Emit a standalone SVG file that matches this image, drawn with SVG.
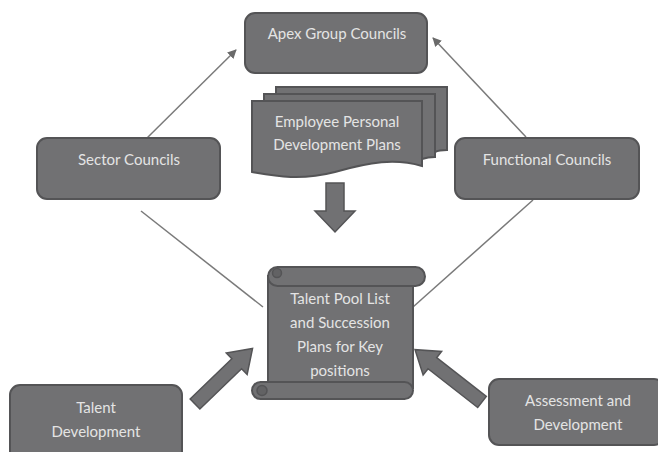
<svg xmlns="http://www.w3.org/2000/svg" width="658" height="452" viewBox="0 0 658 452">
<style>
.box{fill:#717173;stroke:#545456;stroke-width:2}
.t{font-family:Lato,"Liberation Sans",sans-serif;font-size:15px;fill:#e4e4e4;text-anchor:middle}
.ln{stroke:#7a7a7a;stroke-width:1.5;fill:none}
.big{fill:#717173;stroke:#545456;stroke-width:1.5}
.curl{fill:#626264;stroke:#545456;stroke-width:1.5}
</style>
<defs>
<marker id="ah" viewBox="0 0 10 10" refX="9" refY="5" markerWidth="9" markerHeight="9" orient="auto" markerUnits="userSpaceOnUse">
<path d="M0,0 L10,5 L0,10 z" fill="#6a6a6a"/>
</marker>
</defs>
<rect width="658" height="452" fill="#ffffff"/>
<g id="connectors">
<line class="ln" x1="147" y1="138" x2="236" y2="50" marker-end="url(#ah)"/>
<line class="ln" x1="526" y1="137" x2="433" y2="38" marker-end="url(#ah)"/>
<line class="ln" x1="141" y1="211" x2="263" y2="307"/>
<line class="ln" x1="533" y1="200" x2="413" y2="307"/>
<polygon class="big" points="326,183 344,183 344,211 355,211 335,232 315,211 326,211"/>
<polygon class="big" transform="translate(195,404) rotate(-44)" points="0,-7 58,-7 58,-15 80,0 58,15 58,7 0,7"/>
<polygon class="big" transform="translate(482,402) rotate(-142)" points="0,-7 63,-7 63,-15 85,0 63,15 63,7 0,7"/>
</g>
<g id="apex">
<rect class="box" x="245" y="13" width="182" height="60" rx="10"/>
<text class="t" x="337" y="39">Apex Group Councils</text>
</g>
<g id="sector">
<rect class="box" x="37" y="138" width="183" height="61" rx="10"/>
<text class="t" x="129" y="165">Sector Councils</text>
</g>
<g id="functional">
<rect class="box" x="455" y="138" width="184" height="61" rx="10"/>
<text class="t" x="547" y="165">Functional Councils</text>
</g>
<g id="employee">
<path class="box" d="M276,87 L447,87 L447,150 C440,150 437,151 435,152 L435,94 L276,94 z"/>
<path class="box" d="M264,94 L435,94 L435,157 C428,157 425,158 422,159 L422,101 L264,101 z"/>
<path class="box" d="M252,101 L422,101 L422,166 C395,158 370,162 335,172 C300,181 275,176 252,172 z"/>
<text class="t" x="337" y="127">Employee Personal</text>
<text class="t" x="337" y="150">Development Plans</text>
</g>
<g id="talentpool">
<rect class="box" x="268" y="276" width="145" height="112"/>
<rect class="box" x="268" y="267" width="157" height="19" rx="9.5"/>
<rect class="box" x="252" y="382" width="161" height="17" rx="8.5"/>
<circle class="curl" cx="277" cy="273" r="4.5"/>
<circle class="curl" cx="262" cy="390.5" r="5"/>
<text class="t" x="340" y="304">Talent Pool List</text>
<text class="t" x="340" y="328">and Succession</text>
<text class="t" x="340" y="352">Plans for Key</text>
<text class="t" x="340" y="376">positions</text>
</g>
<g id="talentdev">
<rect class="box" x="10" y="385" width="172" height="80" rx="10"/>
<text class="t" x="96" y="413">Talent</text>
<text class="t" x="96" y="437">Development</text>
</g>
<g id="assessment">
<rect class="box" x="489" y="379" width="175" height="66" rx="10"/>
<text class="t" x="578" y="406">Assessment and</text>
<text class="t" x="578" y="430">Development</text>
</g>
</svg>
